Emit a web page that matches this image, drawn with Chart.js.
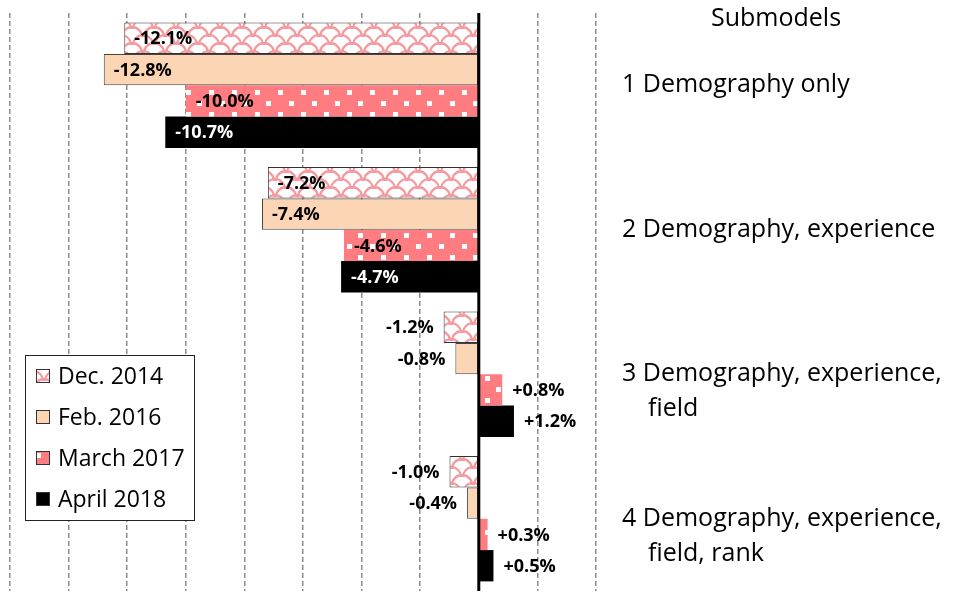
<!DOCTYPE html>
<html><head><meta charset="utf-8">
<script src="https://cdn.jsdelivr.net/npm/chart.js@4/dist/chart.umd.min.js"></script>
<style>html,body{margin:0;padding:0;background:#fff;}#wrap{width:953px;height:592px;position:relative;}</style>
</head><body><div id="wrap"><canvas id="c" width="953" height="592"></canvas></div>
<script>
// ---- data ----
const categories = [
  ["1 Demography only"],
  ["2 Demography, experience"],
  ["", "3 Demography, experience,", "    field"],
  ["", "4 Demography, experience,", "    field, rank"]
];
const seriesNames = ["Dec. 2014", "Feb. 2016", "March 2017", "April 2018"];
const dec2014 = [-12.1, -7.2, -1.2, -1.0];
const feb2016 = [-12.8, -7.4, -0.8, -0.4];
const mar2017 = [-10.0, -4.6, 0.8, 0.3];
const apr2018 = [-10.7, -4.7, 1.2, 0.5];
const axisMin = -16, axisMax = 4, axisStep = 2;
const panelTitle = "Submodels";

// ---- patterns ----
function scalePattern() {
  const w = 22, h = 16;
  const c = document.createElement('canvas'); c.width = w; c.height = h;
  const g = c.getContext('2d');
  g.fillStyle = '#fff'; g.fillRect(0, 0, w, h);
  g.strokeStyle = '#f59a9e'; g.lineWidth = 2;
  const centers = [[11, 13], [0, 5], [22, 5]];
  for (const [cx, cy] of centers) {
    for (const dx of [-w, 0, w]) for (const dy of [-h, 0, h]) {
      g.beginPath(); g.arc(cx + dx, cy + dy, 10, Math.PI, 2 * Math.PI); g.stroke();
    }
  }
  return g.createPattern(c, 'repeat');
}
function dotPattern() {
  const w = 23, h = 22;
  const c = document.createElement('canvas'); c.width = w; c.height = h;
  const g = c.getContext('2d');
  g.fillStyle = '#ff7c80'; g.fillRect(0, 0, w, h);
  g.fillStyle = '#fff';
  g.fillRect(2, 2, 5, 5);
  g.fillRect(13, 13, 5, 5);
  return g.createPattern(c, 'repeat');
}

const fills = [scalePattern(), '#fcd5b5', dotPattern(), '#000000'];
const borders = ['#333333', '#444444', '#ff7c80', '#000000'];
const borderWidths = [1, 1, 0, 0];
const allSeries = [dec2014, feb2016, mar2017, apr2018];

const datasets = allSeries.map((d, i) => ({
  label: seriesNames[i],
  data: d,
  backgroundColor: fills[i],
  borderColor: borders[i],
  borderWidth: borderWidths[i],
  borderSkipped: false
}));

// ---- plugins ----
const overlayPlugin = {
  id: 'overlay',
  afterDatasetsDraw(chart) {
    const ctx = chart.ctx, ca = chart.chartArea;
    const x0 = chart.scales.x.getPixelForValue(0);
    ctx.save();
    ctx.strokeStyle = '#000'; ctx.lineWidth = 3;
    ctx.beginPath(); ctx.moveTo(x0, ca.top); ctx.lineTo(x0, ca.bottom); ctx.stroke();
    ctx.font = 'bold 18px "Open Sans"';
    ctx.textBaseline = 'middle';
    chart.data.datasets.forEach((ds, di) => {
      const meta = chart.getDatasetMeta(di);
      meta.data.forEach((el, i) => {
        const v = ds.data[i];
        const txt = (v > 0 ? '+' : '') + v.toFixed(1) + '%';
        let x, align, color = '#000';
        if (Math.abs(v) > 3) { x = el.x + 10; align = 'left'; if (di === 3) color = '#fff'; }
        else if (v < 0) { x = el.x - 10; align = 'right'; }
        else { x = el.x + 10; align = 'left'; }
        ctx.fillStyle = color; ctx.textAlign = align;
        ctx.fillText(txt, x, el.y + 1);
      });
    });
    ctx.restore();
  },
  afterDraw(chart) {
    const ctx = chart.ctx, ca = chart.chartArea;
    ctx.save();
    // panel title
    ctx.font = '25px "Open Sans"'; ctx.fillStyle = '#000';
    ctx.textAlign = 'center'; ctx.textBaseline = 'middle';
    ctx.fillText(panelTitle, ca.right + 180, ca.top + 6);
    // legend box
    const bx = ca.left + 15, by = ca.top + 342, bw = 169, bh = 165;
    ctx.fillStyle = '#fff'; ctx.fillRect(bx, by, bw, bh);
    ctx.strokeStyle = '#222'; ctx.lineWidth = 1;
    ctx.strokeRect(bx + 0.5, by + 0.5, bw, bh);
    ctx.font = '23px "Open Sans"'; ctx.textAlign = 'left';
    chart.data.datasets.forEach((ds, i) => {
      const cy = by + 21 + i * 41;
      ctx.fillStyle = ds.backgroundColor;
      ctx.fillRect(bx + 11, cy - 7, 14, 14);
      ctx.strokeStyle = '#333';
      ctx.strokeRect(bx + 11.5, cy - 6.5, 13, 13);
      ctx.fillStyle = '#000';
      ctx.fillText(ds.label, bx + 33, cy + 1);
    });
    ctx.restore();
  }
};

new Chart(document.getElementById('c'), {
  type: 'bar',
  data: { labels: categories, datasets },
  plugins: [overlayPlugin],
  options: {
    indexAxis: 'y',
    responsive: false,
    animation: false,
    events: [],
    layout: { padding: { top: 13, bottom: 1, left: 10, right: 0 } },
    datasets: { bar: { categoryPercentage: 0.867, barPercentage: 1 } },
    plugins: { legend: { display: false }, tooltip: { enabled: false } },
    scales: {
      x: {
        min: axisMin, max: axisMax,
        ticks: { display: false, stepSize: axisStep },
        grid: { color: '#8c8c8c', lineWidth: 1.5, drawTicks: false, borderDash: [5, 3] },
        border: { display: false, dash: [5, 3] }
      },
      y: {
        position: 'right',
        grid: { display: false, drawTicks: false },
        border: { display: false },
        ticks: { padding: 26, color: '#000', crossAlign: 'near',
                 font: { family: 'Open Sans', size: 25, lineHeight: 1.4 } },
        afterFit(s) { s.width = 357; s.paddingTop = 0; s.paddingBottom = 0; }
      }
    }
  }
});
</script>
</body></html>
